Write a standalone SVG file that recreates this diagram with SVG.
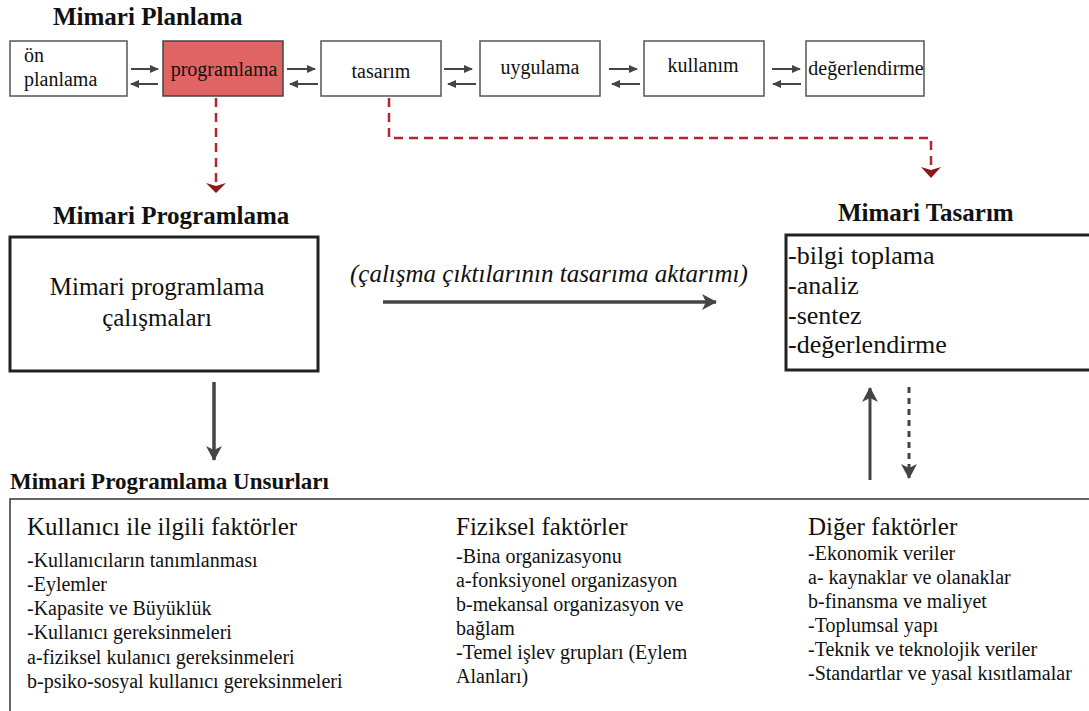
<svg xmlns="http://www.w3.org/2000/svg" width="1089" height="711" viewBox="0 0 1089 711">
<defs>
<style>
text{font-family:'Liberation Serif','DejaVu Serif',serif;fill:#111}
.title{font-weight:bold;font-size:25px}
.box{fill:#fff;stroke:#555;stroke-width:1.5}
.sm{font-size:20px}
.mid{text-anchor:middle}
.thin{stroke:#444;stroke-width:2;fill:none}
.red{stroke:#b3262f;stroke-width:2.5;fill:none;stroke-dasharray:9 6}
.big{stroke:#444;stroke-width:3.5;fill:none}
.hd{font-size:25px}
.hd2{font-size:26px}
.it{font-size:20px}
</style>
<marker id="sa" markerWidth="10" markerHeight="10" refX="8" refY="4" orient="auto" markerUnits="userSpaceOnUse">
<path d="M0,0 L9,4 L0,8 Z" fill="#444"/>
</marker>
<marker id="ba" markerWidth="20" markerHeight="20" refX="14" refY="8" orient="auto" markerUnits="userSpaceOnUse">
<path d="M0,0 L15,8 L0,16 L4,8 Z" fill="#444"/>
</marker>
</defs>

<g id="n-mpl-title"><text class="title" x="53" y="25">Mimari Planlama</text></g>

<g id="n-onplanlama"><rect class="box" x="10" y="41" width="117" height="55"/><text class="sm" x="24" y="62">ön</text><text class="sm" x="24" y="86">planlama</text></g>
<g id="n-programlama"><rect x="163" y="41" width="120" height="55" fill="#e06464" stroke="#444" stroke-width="1.5"/><text class="sm mid" x="224" y="76">programlama</text></g>
<g id="n-tasarim"><rect class="box" x="321" y="41" width="120" height="55"/><text class="sm mid" x="381" y="78">tasarım</text></g>
<g id="n-uygulama"><rect class="box" x="480" y="41" width="120" height="55"/><text class="sm mid" x="540" y="74">uygulama</text></g>
<g id="n-kullanim"><rect class="box" x="644" y="41" width="120" height="55"/><text class="sm mid" x="703" y="72">kullanım</text></g>
<g id="n-degerlendirme"><rect class="box" x="806" y="41" width="118" height="55"/><text class="sm mid" x="866" y="75">değerlendirme</text></g>

<g id="n-mp-title"><text class="title" x="53" y="224">Mimari Programlama</text></g>
<g id="n-mp"><rect x="10" y="237" width="308" height="134" fill="#fff" stroke="#222" stroke-width="3"/>
<text class="hd mid" x="157" y="295">Mimari programlama</text><text class="hd mid" x="157" y="326">çalışmaları</text></g>

<g id="n-mt-title"><text class="title" x="838" y="221">Mimari Tasarım</text></g>
<g id="n-mt"><rect x="786" y="235" width="310" height="135" fill="#fff" stroke="#222" stroke-width="3"/>
<text class="hd2" x="788" y="264">-bilgi toplama</text>
<text class="hd2" x="788" y="294">-analiz</text>
<text class="hd2" x="788" y="324">-sentez</text>
<text class="hd2" x="788" y="353">-değerlendirme</text></g>

<g id="n-mpu-title"><text class="title" x="10" y="489" style="font-size:23px">Mimari Programlama Unsurları</text></g>
<g id="n-mpu"><rect x="10" y="499" width="1090" height="220" fill="#fff" stroke="#333" stroke-width="1.5"/>
<text class="hd" x="27" y="535">Kullanıcı ile ilgili faktörler</text>
<text class="it" x="27" y="567">-Kullanıcıların tanımlanması</text>
<text class="it" x="27" y="591">-Eylemler</text>
<text class="it" x="27" y="615">-Kapasite ve Büyüklük</text>
<text class="it" x="27" y="639">-Kullanıcı gereksinmeleri</text>
<text class="it" x="27" y="664">a-fiziksel kulanıcı gereksinmeleri</text>
<text class="it" x="27" y="688">b-psiko-sosyal kullanıcı gereksinmeleri</text>
<text class="hd" x="456" y="535">Fiziksel faktörler</text>
<text class="it" x="456" y="563">-Bina organizasyonu</text>
<text class="it" x="456" y="587">a-fonksiyonel organizasyon</text>
<text class="it" x="456" y="611">b-mekansal organizasyon ve</text>
<text class="it" x="456" y="635">bağlam</text>
<text class="it" x="456" y="659">-Temel işlev grupları (Eylem</text>
<text class="it" x="456" y="683">Alanları)</text>
<text class="hd" x="808" y="535">Diğer faktörler</text>
<text class="it" x="808" y="560">-Ekonomik veriler</text>
<text class="it" x="808" y="584">a- kaynaklar ve olanaklar</text>
<text class="it" x="808" y="608">b-finansma ve maliyet</text>
<text class="it" x="808" y="632">-Toplumsal yapı</text>
<text class="it" x="808" y="656">-Teknik ve teknolojik veriler</text>
<text class="it" x="808" y="680">-Standartlar ve yasal kısıtlamalar</text></g>

<g id="connectors">
<line class="thin" x1="131" y1="69" x2="158" y2="69" marker-end="url(#sa)"/>
<line class="thin" x1="158" y1="84" x2="131" y2="84" marker-end="url(#sa)"/>
<line class="thin" x1="287" y1="69" x2="315" y2="69" marker-end="url(#sa)"/>
<line class="thin" x1="318" y1="84" x2="290" y2="84" marker-end="url(#sa)"/>
<line class="thin" x1="444" y1="69" x2="472" y2="69" marker-end="url(#sa)"/>
<line class="thin" x1="476" y1="84" x2="448" y2="84" marker-end="url(#sa)"/>
<line class="thin" x1="609" y1="69" x2="637" y2="69" marker-end="url(#sa)"/>
<line class="thin" x1="640" y1="84" x2="612" y2="84" marker-end="url(#sa)"/>
<line class="thin" x1="772" y1="69" x2="800" y2="69" marker-end="url(#sa)"/>
<line class="thin" x1="801" y1="84" x2="773" y2="84" marker-end="url(#sa)"/>

<path class="red" d="M216,98 V184"/>
<path d="M206,183 L216,193 L226,183 L216,186 Z" fill="#8a1a1a"/>
<path class="red" d="M389,98 V138 H931 V168"/>
<path d="M921,167 L931,178 L941,167 L931,170 Z" fill="#8a1a1a"/>

<text x="350" y="282" font-size="25" font-style="italic">(çalışma çıktılarının tasarıma aktarımı)</text>
<line class="big" x1="383" y1="302" x2="716" y2="302" marker-end="url(#ba)"/>

<line class="big" x1="214" y1="382" x2="214" y2="460" marker-end="url(#ba)"/>
<line x1="870" y1="480" x2="870" y2="388" stroke="#444" stroke-width="3" marker-end="url(#ba)"/>
<line x1="909" y1="387" x2="909" y2="478" stroke="#444" stroke-width="3" stroke-dasharray="6 5" marker-end="url(#ba)"/>
</g>
</svg>
